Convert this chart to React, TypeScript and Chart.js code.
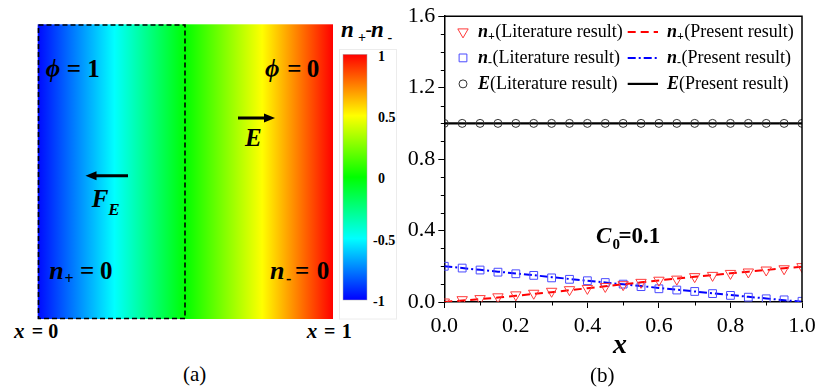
import React, { useEffect, useRef } from 'react';
import { Chart, registerables } from 'chart.js';
import { drawPoint } from 'chart.js/helpers';

Chart.register(...registerables);

// ---------------- data (panel b) ----------------
const X_POINTS = [0, 0.05, 0.1, 0.15, 0.2, 0.25, 0.3, 0.35, 0.4, 0.45, 0.5, 0.55, 0.6, 0.65, 0.7, 0.75, 0.8, 0.85, 0.9, 0.95, 1.0];
const NPLUS_LIT = [0.0, 0.013, 0.019, 0.029, 0.04, 0.049, 0.06, 0.069, 0.076, 0.087, 0.097, 0.11, 0.122, 0.128, 0.142, 0.149, 0.16, 0.168, 0.179, 0.186, 0.198];
const NPLUS_PRESENT = [0.0, 0.008, 0.016, 0.025, 0.035, 0.045, 0.055, 0.066, 0.077, 0.088, 0.099, 0.11, 0.121, 0.131, 0.141, 0.151, 0.161, 0.17, 0.179, 0.189, 0.198];
const NMINUS_LIT = [0.2, 0.19, 0.179, 0.167, 0.158, 0.149, 0.135, 0.127, 0.119, 0.109, 0.1, 0.086, 0.074, 0.067, 0.059, 0.047, 0.037, 0.027, 0.018, 0.012, 0.004];
const NMINUS_PRESENT = [0.2, 0.19, 0.18, 0.17, 0.16, 0.15, 0.139, 0.129, 0.119, 0.109, 0.099, 0.089, 0.079, 0.069, 0.059, 0.049, 0.039, 0.029, 0.02, 0.01, 0.002];
const E_LIT = [1, 1, 1, 1, 1, 1, 1, 1, 1, 1, 1, 1, 1, 1, 1, 1, 1, 1, 1, 1, 1];
const E_PRESENT = [1, 1, 1, 1, 1, 1, 1, 1, 1, 1, 1, 1, 1, 1, 1, 1, 1, 1, 1, 1, 1];

const X_MIN = 0, X_MAX = 1, X_STEP = 0.2;
const Y_MIN = 0, Y_MAX = 1.6, Y_STEP = 0.4;
const X_MINOR = [0.1, 0.3, 0.5, 0.7, 0.9];
const Y_MINOR = [0.1, 0.2, 0.3, 0.5, 0.6, 0.7, 0.9, 1.0, 1.1, 1.3, 1.4, 1.5];

const LEGEND_ITEMS = [
  { main: 'n', sub: '+', rest: '(Literature result)' },
  { main: 'n', sub: '+', rest: '(Present result)' },
  { main: 'n', sub: '-', rest: '(Literature result)' },
  { main: 'n', sub: '-', rest: '(Present result)' },
  { main: 'E', sub: '', rest: '(Literature result)' },
  { main: 'E', sub: '', rest: '(Present result)' },
];

// ---------------- panel a texts ----------------
const COLORBAR_TICKS = ['1', '0.5', '0', '-0.5', '-1'];

const SERIF = '"Liberation Serif", "Times New Roman", Times, serif';
const toPts = (ys: number[]) => X_POINTS.map((x, i) => ({ x, y: ys[i] }));

const decorPlugin = {
  id: 'decor',
  afterDatasetsDraw(chart: any) {
    const { ctx, chartArea } = chart;
    const { left, right, top, bottom } = chartArea;
    const xs = chart.scales.x;
    const ys = chart.scales.y;
    ctx.save();
    ctx.strokeStyle = '#000';
    ctx.lineWidth = 1.5;
    ctx.beginPath();
    ctx.moveTo(left, top);
    ctx.lineTo(right, top);
    ctx.lineTo(right, bottom);
    ctx.stroke();
    ctx.lineWidth = 1;
    ctx.beginPath();
    X_MINOR.forEach((v) => {
      const px = Math.round(xs.getPixelForValue(v)) + 0.5;
      ctx.moveTo(px, bottom);
      ctx.lineTo(px, bottom + 3.5);
    });
    Y_MINOR.forEach((v) => {
      const py = Math.round(ys.getPixelForValue(v)) + 0.5;
      ctx.moveTo(left, py);
      ctx.lineTo(left - 3.5, py);
    });
    ctx.stroke();
    ctx.restore();
  },
  afterDraw(chart: any) {
    const { ctx, chartArea } = chart;
    const { left, top } = chartArea;
    ctx.save();
    LEGEND_ITEMS.forEach((item, i) => {
      const ds = chart.data.datasets[i];
      const row = Math.floor(i / 2);
      const col = i % 2;
      const y = top + 15.7 + row * 26;
      let tx;
      if (col === 0) {
        const mx = left + 18.7;
        ctx.strokeStyle = ds.pointBorderColor;
        ctx.fillStyle = 'rgba(0,0,0,0)';
        ctx.lineWidth = ds.pointBorderWidth;
        ctx.setLineDash([]);
        drawPoint(ctx, { pointStyle: ds.pointStyle, rotation: ds.pointRotation || 0, radius: ds.pointRadius, borderWidth: ds.pointBorderWidth }, mx, y);
        tx = left + 33.7;
      } else {
        ctx.strokeStyle = ds.borderColor;
        ctx.lineWidth = ds.borderWidth;
        ctx.setLineDash(ds.borderDash || []);
        ctx.beginPath();
        ctx.moveTo(left + 183.4, y);
        ctx.lineTo(left + 213.7, y);
        ctx.stroke();
        ctx.setLineDash([]);
        tx = left + 222.7;
      }
      ctx.fillStyle = '#000';
      ctx.textBaseline = 'middle';
      ctx.textAlign = 'left';
      ctx.font = `italic bold 18px ${SERIF}`;
      ctx.fillText(item.main, tx, y);
      tx += ctx.measureText(item.main).width;
      if (item.sub) {
        ctx.font = `bold 12px ${SERIF}`;
        ctx.fillText(item.sub, tx, y + 5);
        tx += ctx.measureText(item.sub).width + 0.5;
      }
      ctx.font = `18px ${SERIF}`;
      ctx.fillText(item.rest, tx, y);
    });
    ctx.restore();
  },
};

function ChartB() {
  const ref = useRef<HTMLCanvasElement | null>(null);
  useEffect(() => {
    if (!ref.current) return;
    const tickFont = { family: SERIF, size: 22 };
    const chart = new Chart(ref.current, {
      type: 'scatter',
      data: {
        datasets: [
          {
            label: 'n+ Literature',
            data: toPts(NPLUS_LIT),
            showLine: false,
            pointStyle: 'triangle',
            pointRotation: 180,
            pointRadius: 6,
            pointBorderColor: '#ff3a3a',
            pointBackgroundColor: 'rgba(0,0,0,0)',
            pointBorderWidth: 1,
            clip: 0,
          },
          {
            label: 'n+ Present',
            data: toPts(NPLUS_PRESENT),
            showLine: true,
            borderColor: '#ff0000',
            borderWidth: 2,
            borderDash: [8, 5],
            pointRadius: 0,
            fill: false,
            clip: 0,
          },
          {
            label: 'n- Literature',
            data: toPts(NMINUS_LIT),
            showLine: false,
            pointStyle: 'rect',
            pointRadius: 5.5,
            pointBorderColor: '#4a4aff',
            pointBackgroundColor: 'rgba(0,0,0,0)',
            pointBorderWidth: 1,
            clip: 0,
          },
          {
            label: 'n- Present',
            data: toPts(NMINUS_PRESENT),
            showLine: true,
            borderColor: '#0000ff',
            borderWidth: 2,
            borderDash: [8, 3, 2, 3],
            pointRadius: 0,
            fill: false,
            clip: 0,
          },
          {
            label: 'E Literature',
            data: toPts(E_LIT),
            showLine: false,
            pointStyle: 'circle',
            pointRadius: 4,
            pointBorderColor: '#333333',
            pointBackgroundColor: 'rgba(0,0,0,0)',
            pointBorderWidth: 1,
            clip: 0,
          },
          {
            label: 'E Present',
            data: toPts(E_PRESENT),
            showLine: true,
            borderColor: '#000000',
            borderWidth: 2.2,
            pointRadius: 0,
            fill: false,
            clip: 0,
          },
        ],
      },
      options: {
        animation: false,
        responsive: false,
        maintainAspectRatio: false,
        layout: { padding: { top: 15, right: 28, left: 0, bottom: 0 } },
        plugins: { legend: { display: false }, tooltip: { enabled: false }, title: { display: false } },
        scales: {
          x: {
            type: 'linear',
            min: X_MIN,
            max: X_MAX,
            ticks: {
              stepSize: X_STEP,
              font: tickFont,
              color: '#000',
              padding: 5,
              maxRotation: 0,
              autoSkip: false,
              callback: (v: any) => Number(v).toFixed(1),
            },
            grid: { drawOnChartArea: false, tickLength: 6, color: '#000', tickWidth: 1 },
            border: { color: '#000', width: 1.5 },
            afterFit: (s: any) => { s.height = 90; },
          },
          y: {
            type: 'linear',
            min: Y_MIN,
            max: Y_MAX,
            ticks: {
              stepSize: Y_STEP,
              font: tickFont,
              color: '#000',
              padding: 3,
              callback: (v: any) => Number(v).toFixed(1),
            },
            grid: { drawOnChartArea: false, tickLength: 6, color: '#000', tickWidth: 1 },
            border: { color: '#000', width: 1.5 },
            afterFit: (s: any) => { s.width = 44.3; },
          },
        },
      },
      plugins: [decorPlugin],
    } as any);
    return () => chart.destroy();
  }, []);
  return <canvas ref={ref} width={430} height={392} style={{ position: 'absolute', left: 400, top: 0 }} />;
}

function PanelA() {
  const ff = SERIF;
  return (
    <svg width={400} height={392} style={{ position: 'absolute', left: 0, top: 0 }} fontFamily={ff}>
      <defs>
        <linearGradient id="jetH" x1="0" x2="1" y1="0" y2="0">
          <stop offset="0" stopColor="#0008ff" />
          <stop offset="0.26" stopColor="#00ffff" />
          <stop offset="0.5" stopColor="#00ff00" />
          <stop offset="0.76" stopColor="#ffff00" />
          <stop offset="1" stopColor="#ff0000" />
        </linearGradient>
        <linearGradient id="jetV" x1="0" x2="0" y1="0" y2="1">
          <stop offset="0" stopColor="#ff0000" />
          <stop offset="0.25" stopColor="#ffff00" />
          <stop offset="0.5" stopColor="#00ff00" />
          <stop offset="0.75" stopColor="#00ffff" />
          <stop offset="1" stopColor="#0000ff" />
        </linearGradient>
      </defs>
      <rect x={37.7} y={24.3} width={295.3} height={294.7} fill="url(#jetH)" />
      <rect x={38.5} y={25} width={146.5} height={293.5} fill="none" stroke="#000" strokeWidth={1.6} strokeDasharray="5 3" />
      {/* colorbar frame */}
      <rect x={339.5} y={49.5} width={57} height={269.5} fill="none" stroke="#ececec" strokeWidth={1} />
      <rect x={343} y={54.3} width={24} height={245.7} fill="url(#jetV)" stroke="#aaa" strokeWidth={0.5} />
      {/* colorbar title */}
      <text x={341} y={37} fontWeight="bold" fontStyle="italic" fontSize={23}>n</text>
      <text x={358} y={42} fontWeight="bold" fontSize={14}>+</text>
      <text x={365.5} y={36} fontWeight="bold" fontSize={19}>-</text>
      <text x={371} y={37} fontWeight="bold" fontStyle="italic" fontSize={23}>n</text>
      <text x={387.5} y={42} fontWeight="bold" fontSize={14}>-</text>
      {/* colorbar ticks */}
      {COLORBAR_TICKS.map((t, i) => (
        <text key={t} x={t.startsWith('-') ? 373 : 378} y={60.5 + i * 61.4} fontWeight="bold" fontSize={14}>{t}</text>
      ))}
      {/* phi labels */}
      <text x={45.7} y={76.7} fontWeight="bold" fontStyle="italic" fontSize={25}>ϕ</text>
      <text x={66.7} y={76.7} fontWeight="bold" fontSize={25}>=</text>
      <text x={87.3} y={76.7} fontWeight="bold" fontSize={25}>1</text>
      <text x={265} y={76.7} fontWeight="bold" fontStyle="italic" fontSize={25}>ϕ</text>
      <text x={287.3} y={76.7} fontWeight="bold" fontSize={25}>=</text>
      <text x={306.7} y={76.7} fontWeight="bold" fontSize={25}>0</text>
      {/* E arrow */}
      <line x1={238} y1={118} x2={266} y2={118} stroke="#000" strokeWidth={3} />
      <polygon points="275,118 264,113.5 264,122.5" fill="#000" />
      <text x={245} y={145.7} fontWeight="bold" fontStyle="italic" fontSize={25}>E</text>
      {/* F_E arrow */}
      <line x1={128} y1={175.7} x2={95} y2={175.7} stroke="#000" strokeWidth={3} />
      <polygon points="85.5,175.7 96.5,171.2 96.5,180.2" fill="#000" />
      <text x={91.7} y={207.3} fontWeight="bold" fontStyle="italic" fontSize={25}>F</text>
      <text x={108.3} y={215} fontWeight="bold" fontStyle="italic" fontSize={17}>E</text>
      {/* n+ = 0, n- = 0 */}
      <text x={49.3} y={279} fontWeight="bold" fontStyle="italic" fontSize={26}>n</text>
      <text x={64.5} y={284} fontWeight="bold" fontSize={16}>+</text>
      <text x={80} y={279} fontWeight="bold" fontSize={25}>=</text>
      <text x={100} y={279} fontWeight="bold" fontSize={25}>0</text>
      <text x={270} y={279} fontWeight="bold" fontStyle="italic" fontSize={26}>n</text>
      <text x={286} y={284} fontWeight="bold" fontSize={16}>-</text>
      <text x={295} y={279} fontWeight="bold" fontSize={25}>=</text>
      <text x={316.7} y={279} fontWeight="bold" fontSize={25}>0</text>
      {/* x = 0, x = 1 */}
      <text x={14} y={338.3} fontWeight="bold" fontStyle="italic" fontSize={21}>x</text>
      <text x={31.7} y={338.3} fontWeight="bold" fontSize={20}>=</text>
      <text x={48.3} y={338.3} fontWeight="bold" fontSize={20}>0</text>
      <text x={306.7} y={338.3} fontWeight="bold" fontStyle="italic" fontSize={21}>x</text>
      <text x={324} y={338.3} fontWeight="bold" fontSize={20}>=</text>
      <text x={341.7} y={338.3} fontWeight="bold" fontSize={20}>1</text>
      <text x={183} y={381} fontSize={21}>(a)</text>
    </svg>
  );
}

function OverlayB() {
  return (
    <svg width={815} height={392} style={{ position: 'absolute', left: 0, top: 0, pointerEvents: 'none' }} fontFamily={SERIF}>
      <text x={596} y={242.7} fontWeight="bold" fontStyle="italic" fontSize={23}>C</text>
      <text x={612.5} y={249} fontWeight="bold" fontSize={15}>0</text>
      <text x={618.5} y={242.7} fontWeight="bold" fontSize={23}>=0.1</text>
      <text x={613} y={353} fontWeight="bold" fontStyle="italic" fontSize={28}>x</text>
      <text x={590} y={381.7} fontSize={21}>(b)</text>
    </svg>
  );
}

export default function App() {
  return (
    <div style={{ position: 'absolute', left: 0, top: 0, width: 815, height: 392, overflow: 'hidden', background: '#fff' }}>
      <PanelA />
      <ChartB />
      <OverlayB />
    </div>
  );
}
